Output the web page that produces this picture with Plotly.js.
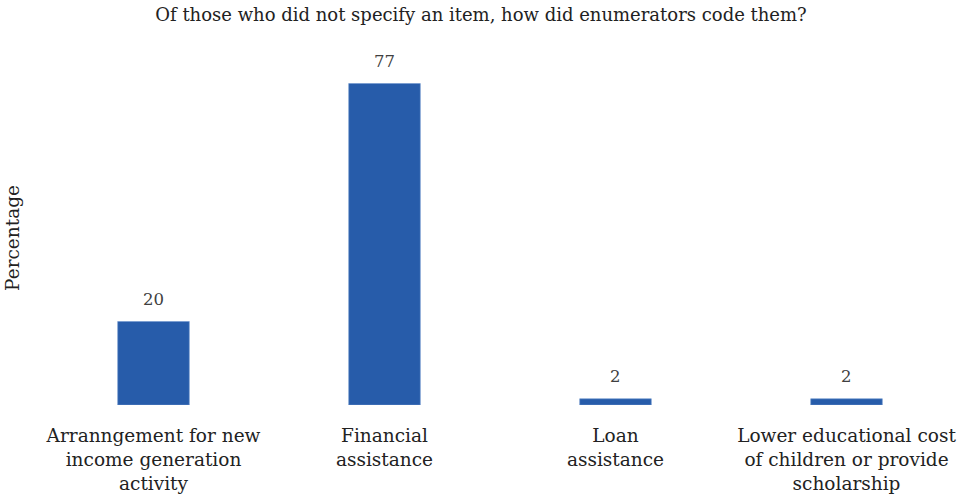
<!DOCTYPE html>
<html>
<head>
<meta charset="utf-8">
<script src="https://cdn.plot.ly/plotly-3.0.1.min.js"></script>
<style>html,body{margin:0;padding:0;background:#fff;}#chart{width:962px;height:499px;}</style>
</head>
<body>
<div id="chart"></div>
<script>
const categories = ["Arranngement for new<br>income generation<br>activity", "Financial<br>assistance", "Loan<br>assistance", "Lower educational cost<br>of children or provide<br>scholarship"];
const percentages = [20, 77, 1.5, 1.5];
const labels = ["20", "77", "2", "2"];

const FONT = "DejaVu Serif, Liberation Serif, serif";

const trace = {
  type: "bar",
  x: categories,
  y: percentages,
  marker: {color: "#275CAA", line: {color: "#6f95cf", width: 0.6}},
  width: 0.31,
  hoverinfo: "skip"
};

const annotations = categories.map((c, i) => ({
  x: c, y: percentages[i], text: labels[i], showarrow: false,
  yshift: 22, font: {family: FONT, size: 16.5, color: "#404040"}
}));

const layout = {
  width: 962, height: 499,
  margin: {l: 38, r: 0, t: 71, b: 94},
  paper_bgcolor: "#fff", plot_bgcolor: "#fff",
  title: {text: "Of those who did not specify an item, how did enumerators code them?", x: 0.5, xanchor: "center", y: 0.97, yanchor: "middle", font: {family: FONT, size: 18, color: "#222"}},
  xaxis: {automargin: false, showgrid: false, zeroline: false, showline: false, ticks: "outside", ticklen: 14, tickcolor: "rgba(0,0,0,0)", tickfont: {family: FONT, size: 18.5, color: "#222"}, fixedrange: true},
  yaxis: {automargin: false, range: [0, 80], showgrid: false, zeroline: false, showline: false, showticklabels: false, ticks: "",
          title: {text: "Percentage", font: {family: FONT, size: 18.5, color: "#222"}, standoff: 12}},
  annotations: annotations,
  showlegend: false,
  bargap: 0.69
};

Plotly.newPlot("chart", [trace], layout, {displayModeBar: false, staticPlot: true});
</script>
</body>
</html>
